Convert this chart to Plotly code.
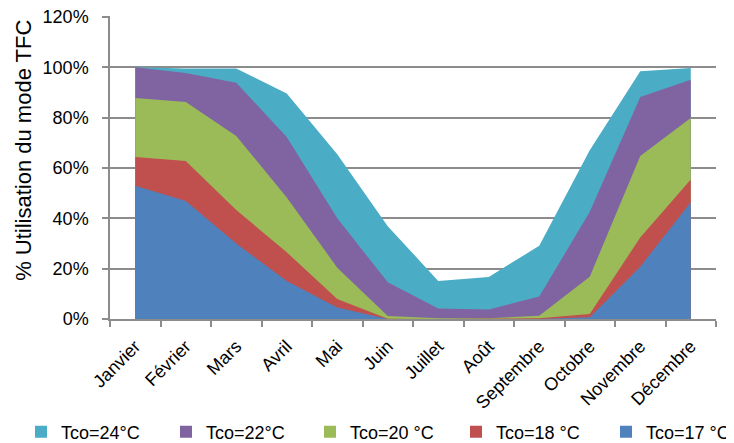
import plotly.graph_objects as go

months = ["Janvier", "Février", "Mars", "Avril", "Mai", "Juin", "Juillet",
          "Août", "Septembre", "Octobre", "Novembre", "Décembre"]

tco24 = [1.000, 0.995, 0.995, 0.896, 0.655, 0.369, 0.151, 0.167, 0.291, 0.671, 0.984, 0.997]
tco22 = [1.000, 0.977, 0.939, 0.723, 0.400, 0.146, 0.042, 0.038, 0.089, 0.426, 0.882, 0.951]
tco20 = [0.878, 0.862, 0.727, 0.483, 0.204, 0.012, 0.003, 0.003, 0.013, 0.168, 0.648, 0.799]
tco18 = [0.644, 0.628, 0.433, 0.265, 0.079, 0.001, 0.000, 0.000, 0.003, 0.020, 0.324, 0.554]
tco17 = [0.529, 0.469, 0.300, 0.151, 0.046, 0.000, 0.000, 0.000, 0.000, 0.007, 0.208, 0.464]

series_names = ["Tco=24°C", "Tco=22°C", "Tco=20 °C", "Tco=18 °C", "Tco=17 °C"]
series_values = [tco24, tco22, tco20, tco18, tco17]
series_colors = ["#4BACC6", "#8064A2", "#9BBB59", "#C0504D", "#4F81BD"]

y_ticks = [0.0, 0.2, 0.4, 0.6, 0.8, 1.0, 1.2]
y_title = "% Utilisation du mode TFC"

FONT = "Liberation Sans"
AXIS_GREY = "#8c8c8c"

# the page body adds an 8px offset; the figure is sized to fill the rest
W, H = 726, 435

fig = go.Figure()
for name, vals, color in zip(series_names, series_values, series_colors):
    fig.add_trace(go.Scatter(
        x=months, y=vals, name=name, mode="lines",
        line=dict(width=0, color=color),
        fill="tozeroy", fillcolor=color,
        showlegend=False,
    ))

# one legend per entry so they sit on one row at Excel-like spacing
legend_left_px = [13, 158, 302, 448, 598]
legend_layout = {}
for i, (name, color, lx) in enumerate(zip(series_names, series_colors, legend_left_px)):
    key = "legend" if i == 0 else f"legend{i + 1}"
    fig.add_trace(go.Scatter(
        x=[None], y=[None], name=name, mode="markers",
        marker=dict(symbol="square", size=12, color=color),
        showlegend=True, legend=key,
    ))
    legend_layout[key] = dict(
        orientation="h", xref="container", yref="container",
        x=lx / W, xanchor="left", y=1 - 424 / H, yanchor="middle",
        font=dict(size=18, family=FONT, color="black"), itemwidth=30,
        bgcolor="rgba(0,0,0,0)",
    )

fig.update_layout(
    width=W, height=H,
    margin=dict(l=102, r=18, t=8, b=124, autoexpand=False),
    paper_bgcolor="white", plot_bgcolor="white",
    font=dict(family=FONT, size=18, color="black"),
    showlegend=True,
    xaxis=dict(
        type="category", range=[-0.5, 11.5], automargin=False,
        tickson="boundaries", ticks="outside", ticklen=6, tickcolor=AXIS_GREY,
        tickwidth=1.5,
        showline=True, linecolor=AXIS_GREY, linewidth=1.5,
        showgrid=False, tickangle=-45, tickfont=dict(size=18),
        ticklabelstandoff=8,
    ),
    yaxis=dict(
        range=[0, 1.2 * 303 / 302], tickmode="array", tickvals=y_ticks,
        tickformat=".0%", automargin=False, ticklabeloverflow="allow",
        ticks="outside", ticklen=6, tickcolor=AXIS_GREY, tickwidth=1.5,
        showline=True, linecolor=AXIS_GREY, linewidth=1.5,
        showgrid=True, gridcolor=AXIS_GREY, gridwidth=1.5,
        zeroline=False, tickfont=dict(size=18), ticklabelstandoff=10,
    ),
    annotations=[dict(
        text=y_title, textangle=-90, showarrow=False,
        xref="paper", yref="paper", x=-0.142, y=0.558,
        xanchor="center", yanchor="middle",
        font=dict(size=22, family=FONT, color="black"),
    )],
    **legend_layout,
)

fig.write_html("out.html")
